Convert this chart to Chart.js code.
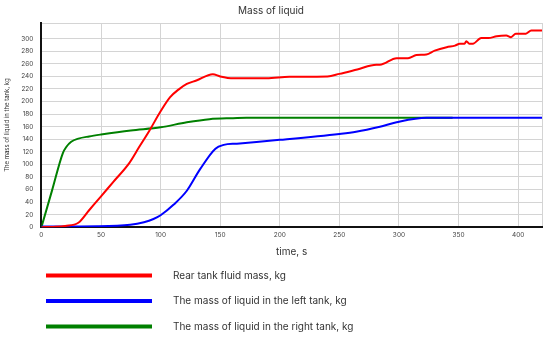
<!DOCTYPE html>
<html>
<head>
<meta charset="utf-8">
<script src="https://cdn.jsdelivr.net/npm/chart.js@4/dist/chart.umd.min.js"></script>
<style>
  html, body { margin: 0; padding: 0; background: #fff; }
  #wrap { width: 550px; height: 337px; }
</style>
</head>
<body>
<div id="wrap"><canvas id="chart"></canvas></div>
<script>
const ctx = document.getElementById('chart');

// time, s  /  mass, kg
const rearT = [0, 10, 20, 31, 40, 50, 60, 73.7, 82, 90.7, 100, 108, 115, 122, 130, 143.8, 150, 161, 189, 208, 240, 250, 265, 281, 284, 298, 307.6, 314.6, 323, 330, 340, 347, 351, 355, 356.5, 359, 362, 369, 375, 382, 390, 394, 398, 406.5, 411, 420];
const rearM = [0, 0.5, 2, 7, 27, 49, 71.5, 102, 127.5, 154, 184.5, 207, 219, 228, 233.5, 243.5, 240, 237, 237, 239.5, 240, 244, 251, 258.5, 258.5, 269, 269, 274, 275, 281, 286.5, 289, 292, 292, 296, 292, 292, 301, 301, 304, 305, 302.5, 308, 308, 313, 313];

const leftT = [0, 47, 74.5, 86, 94, 100, 111, 122, 133, 146, 153, 164, 200, 250, 264, 284, 298, 323, 420];
const leftM = [1, 1.5, 4, 8, 13, 19, 36, 58, 92, 125, 131, 133, 139, 148.5, 152, 160, 167, 174, 174];

const rightT = [0, 9, 18, 21, 25, 31, 40, 50, 75, 100, 122, 141, 160, 172, 345];
const rightM = [0, 59, 118, 128, 136, 141, 144.5, 147.5, 154, 159, 167, 172, 173.5, 174, 174];

const xTicks = [0, 50, 100, 150, 200, 250, 300, 350, 400, 420];
const yTicks = [0, 20, 40, 60, 80, 100, 120, 140, 160, 180, 200, 220, 240, 260, 280, 300, 325];

const seriesNames = ['Rear tank fluid mass, kg', 'The mass of liquid in the left tank, kg', 'The mass of liquid in the right tank, kg'];

const pts = (t, m) => t.map((v, i) => ({ x: v, y: m[i] }));

// legend drawn as one column under the chart
const columnLegend = {
  id: 'columnLegend',
  afterDraw(chart) {
    const c = chart.ctx;
    c.save();
    c.font = '10px Inter';
    c.textBaseline = 'middle';
    chart.data.datasets.forEach((ds, i) => {
      const y = 275.5 + i * 25.5;
      c.fillStyle = ds.borderColor;
      c.fillRect(46, y - 2, 106, 4);
      c.fillStyle = '#333';
      c.fillText(ds.label, 173, y);
    });
    c.restore();
  }
};

const line = (label, data, color) => ({
  label, data,
  borderColor: color,
  backgroundColor: color,
  borderWidth: 2,
  pointRadius: 0,
  cubicInterpolationMode: 'monotone'
});

const myChart = new Chart(ctx, {
  type: 'line',
  data: {
    datasets: [
      line(seriesNames[0], pts(rearT, rearM), '#ff0000'),
      line(seriesNames[1], pts(leftT, leftM), '#0000ff'),
      line(seriesNames[2], pts(rightT, rightM), '#008000')
    ]
  },
  options: {
    responsive: true,
    maintainAspectRatio: false,
    animation: false,
    layout: { padding: { left: 0, right: 8, top: 1, bottom: 79 } },
    plugins: {
      legend: { display: false },
      tooltip: { enabled: false },
      title: {
        display: true,
        text: 'Mass of liquid',
        color: '#333',
        font: { family: 'Inter', size: 10, weight: 'normal' },
        padding: { top: 4, bottom: 6 }
      }
    },
    scales: {
      x: {
        type: 'linear',
        min: 0, max: 420,
        afterBuildTicks: s => { s.ticks = xTicks.map(v => ({ value: v })); },
        ticks: {
          color: '#444',
          font: { family: 'Inter', size: 6.5 },
          padding: 4,
          maxRotation: 0,
          callback: v => (v % 50 === 0 ? v : '')
        },
        grid: { color: '#d4d4d4', lineWidth: 1, drawTicks: false },
        border: { color: '#111', width: 2 },
        title: {
          display: true,
          text: 'time, s',
          color: '#333',
          font: { family: 'Inter', size: 10 },
          padding: { top: 3, bottom: 0 }
        }
      },
      y: {
        min: 0, max: 325,
        afterBuildTicks: s => { s.ticks = yTicks.map(v => ({ value: v })); },
        ticks: {
          color: '#444',
          font: { family: 'Inter', size: 6.5 },
          padding: 8,
          callback: v => (v % 20 === 0 ? v : '')
        },
        grid: { color: '#d4d4d4', lineWidth: 1, drawTicks: false },
        border: { color: '#111', width: 2 },
        title: {
          display: true,
          text: 'The mass of liquid in the tank, kg',
          color: '#333',
          font: { family: 'Inter', size: 6 },
          padding: { top: 4, bottom: 2 }
        }
      }
    }
  },
  plugins: [columnLegend]
});
</script>
</body>
</html>
